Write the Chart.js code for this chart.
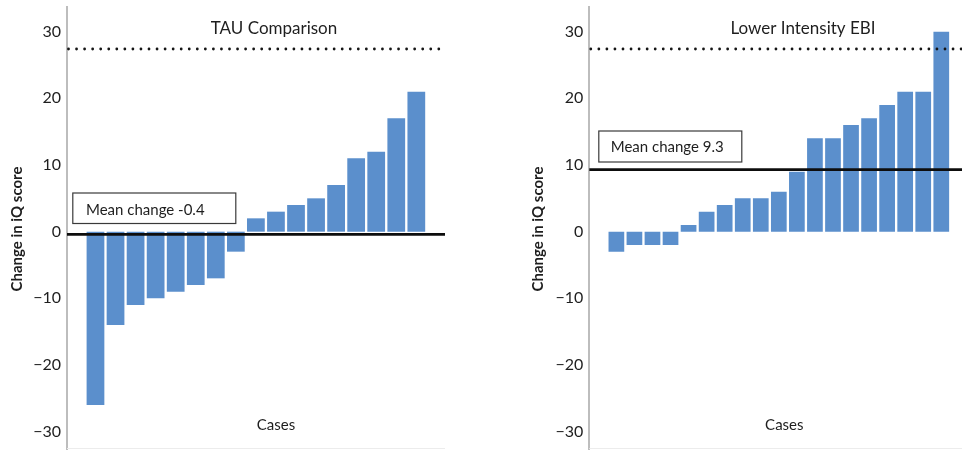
<!DOCTYPE html>
<html>
<head>
<meta charset="utf-8">
<script src="https://cdn.jsdelivr.net/npm/chart.js@4.4.1/dist/chart.umd.min.js"></script>
<style>
  html, body { margin: 0; padding: 0; background: #fff; overflow: hidden; width: 962px; height: 450px; }
  .panel { position: absolute; top: 0; }
  #leftPanel { left: 0; }
  #rightPanel { left: 480px; }
</style>
</head>
<body>
<div class="panel" id="leftPanel"><canvas id="tauChart" width="480" height="450"></canvas></div>
<div class="panel" id="rightPanel"><canvas id="ebiChart" width="490" height="450"></canvas></div>
<script>
// Shared y-axis tick values and reference level
const yTicks = [-30, -20, -10, 0, 10, 20, 30];
const referenceLevel = 27.4;

// TAU comparison group: change in IQ score per case, sorted
const tauCases  = [1, 2, 3, 4, 5, 6, 7, 8, 9, 10, 11, 12, 13, 14, 15, 16, 17];
const tauChange = [-26, -14, -11, -10, -9, -8, -7, -3, 2, 3, 4, 5, 7, 11, 12, 17, 21];
const tauMean   = -0.4;

// Lower intensity EBI group: change in IQ score per case, sorted
const ebiCases  = [1, 2, 3, 4, 5, 6, 7, 8, 9, 10, 11, 12, 13, 14, 15, 16, 17, 18, 19];
const ebiChange = [-3, -2, -2, -2, 1, 3, 4, 5, 5, 6, 9, 14, 14, 16, 17, 19, 21, 21, 30];
const ebiMean   = 9.3;

const BAR_BLUE = '#5b8fcc';
const TEXT = '#1e1e1e';
const FONT = 'Lato, "Open Sans", sans-serif';

// Reference line, mean line, mean box and in-plot texts
const overlayPlugin = {
  id: 'overlay',
  afterDatasetsDraw(chart, args, o) {
    const { ctx, chartArea: a, scales: { y } } = chart;
    ctx.save();

    // faint base line
    ctx.strokeStyle = '#ececec';
    ctx.lineWidth = 1;
    ctx.beginPath();
    ctx.moveTo(a.left, a.bottom - 0.5);
    ctx.lineTo(a.right, a.bottom - 0.5);
    ctx.stroke();

    // dotted reference line
    const yr = y.getPixelForValue(o.reference);
    ctx.strokeStyle = '#151515';
    ctx.lineWidth = 2.8;
    ctx.lineCap = 'round';
    ctx.setLineDash([0, 8.05]);
    ctx.beginPath();
    ctx.moveTo(a.left + 1.5, yr);
    ctx.lineTo(a.right, yr);
    ctx.stroke();

    // mean change line
    const ym = y.getPixelForValue(o.mean);
    ctx.setLineDash([]);
    ctx.lineCap = 'butt';
    ctx.lineWidth = 2.6;
    ctx.strokeStyle = '#0d0d0d';
    ctx.beginPath();
    ctx.moveTo(a.left, ym);
    ctx.lineTo(a.right, ym);
    ctx.stroke();

    // mean box
    const b = o.box;
    const bx = a.left + b.dx;
    ctx.fillStyle = '#fff';
    ctx.fillRect(bx, b.top, b.width, b.height);
    ctx.strokeStyle = '#3a3a3a';
    ctx.lineWidth = 1.2;
    ctx.strokeRect(bx + 0.5, b.top + 0.5, b.width, b.height);
    ctx.fillStyle = TEXT;
    ctx.font = `15px ${FONT}`;
    ctx.textAlign = 'left';
    ctx.textBaseline = 'alphabetic';
    ctx.fillText(`Mean change ${o.mean}`, bx + b.textInset, b.top + b.baseline);

    // panel title
    ctx.font = `17px ${FONT}`;
    ctx.textAlign = 'center';
    ctx.fillText(o.title, a.left + o.titleDx, 34);

    // cases label
    ctx.font = `15px ${FONT}`;
    ctx.fillText('Cases', a.left + o.casesDx, 430);

    // y-axis title
    ctx.translate(a.left + o.yTitleDx, 229);
    ctx.rotate(-Math.PI / 2);
    ctx.font = `bold 15px ${FONT}`;
    ctx.textAlign = 'center';
    ctx.fillText('Change in iQ score', 0, 0);

    ctx.restore();
  }
};

function buildPanel(canvasId, spec) {
  return new Chart(document.getElementById(canvasId), {
    type: 'bar',
    data: {
      labels: spec.cases,
      datasets: [{
        data: spec.values,
        backgroundColor: BAR_BLUE,
        borderWidth: 0,
        barPercentage: spec.barPct,
        categoryPercentage: 1
      }]
    },
    options: {
      responsive: false,
      animation: false,
      events: [],
      layout: { padding: { left: 0, right: spec.padRight, top: 7, bottom: 1 } },
      plugins: {
        legend: { display: false },
        tooltip: { enabled: false },
        title: { display: false },
        overlay: spec.overlay
      },
      scales: {
        x: {
          type: 'linear',
          display: false,
          min: spec.xMin,
          max: spec.xMax,
          offset: false
        },
        y: {
          min: -32.6,
          max: 33.7,
          afterBuildTicks: s => { s.ticks = yTicks.map(v => ({ value: v })); },
          afterFit: s => {
            s.width = spec.axisLeft;
            s.paddingTop = 0;
            s.paddingBottom = 0;
          },
          grid: { display: false, drawTicks: false },
          border: { display: true, color: '#bdbdbd', width: 2 },
          ticks: {
            padding: 6,
            color: TEXT,
            font: { family: FONT, size: 16 },
            callback: v => (v < 0 ? '\u2212' + Math.abs(v) : String(v))
          }
        }
      }
    },
    plugins: [overlayPlugin]
  });
}

buildPanel('tauChart', {
  cases: tauCases,
  values: tauChange,
  xMin: -0.42,
  xMax: 18.43,
  barPct: 0.885,
  axisLeft: 67,
  padRight: 35,
  overlay: {
    reference: referenceLevel,
    mean: tauMean,
    title: 'TAU Comparison',
    titleDx: 207,
    casesDx: 209,
    yTitleDx: -45.5,
    box: { dx: 5.3, top: 192.5, width: 163, height: 30.5, textInset: 13.7, baseline: 22.5 }
  }
});

buildPanel('ebiChart', {
  cases: ebiCases,
  values: ebiChange,
  xMin: -0.5,
  xMax: 20.48,
  barPct: 0.87,
  axisLeft: 109.3,
  padRight: 2,
  overlay: {
    reference: referenceLevel,
    mean: ebiMean,
    title: 'Lower Intensity EBI',
    titleDx: 213.7,
    casesDx: 195,
    yTitleDx: -46.8,
    box: { dx: 9, top: 130.5, width: 143, height: 31, textInset: 12.4, baseline: 21 }
  }
});
</script>
</body>
</html>
